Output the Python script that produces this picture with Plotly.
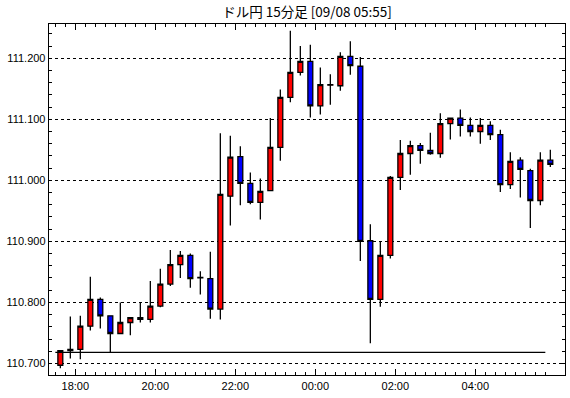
import pandas as pd
import plotly.graph_objects as go

title_text = "ドル円 15分足 [09/08 05:55]"
first_bar = "2017-09-07 17:30"
n_bars = 50

opens = [110.697, 110.721, 110.723, 110.761, 110.805, 110.778, 110.749, 110.767, 110.775, 110.772,
         110.794, 110.830, 110.862, 110.877, 110.840, 110.839, 110.789, 110.974, 111.039, 110.995,
         110.964, 110.983, 111.054, 111.136, 111.177, 111.195, 111.122, 111.156, 111.155, 111.203,
         111.187, 110.901, 110.805, 110.877, 111.005, 111.044, 111.057, 111.049, 111.044, 111.093,
         111.102, 111.090, 111.080, 111.090, 111.075, 110.993, 111.033, 111.016, 110.967, 111.033]
highs = [110.721, 110.777, 110.778, 110.842, 110.808, 110.778, 110.800, 110.775, 110.800, 110.835,
         110.855, 110.886, 110.884, 110.880, 110.851, 110.883, 111.077, 111.073, 111.056, 111.013,
         111.003, 111.102, 111.149, 111.245, 111.220, 111.222, 111.185, 111.174, 111.210, 111.228,
         111.202, 110.928, 110.900, 111.007, 111.066, 111.065, 111.061, 111.078, 111.110, 111.102,
         111.116, 111.103, 111.102, 111.097, 111.083, 111.046, 111.038, 111.019, 111.046, 111.050]
lows = [110.692, 110.708, 110.707, 110.754, 110.757, 110.718, 110.749, 110.746, 110.767, 110.767,
        110.792, 110.827, 110.840, 110.824, 110.813, 110.773, 110.772, 110.926, 110.959, 110.961,
        110.936, 110.983, 111.032, 111.128, 111.172, 111.103, 111.108, 111.124, 111.147, 111.173,
        110.868, 110.733, 110.793, 110.872, 110.984, 111.009, 111.027, 111.042, 111.037, 111.067,
        111.072, 111.072, 111.060, 111.066, 110.981, 110.986, 110.972, 110.922, 110.959, 111.022]
closes = [110.721, 110.723, 110.761, 110.805, 110.778, 110.749, 110.767, 110.775, 110.772, 110.794,
          110.830, 110.862, 110.877, 110.839, 110.841, 110.789, 110.977, 111.038, 110.995, 110.964,
          110.982, 111.054, 111.136, 111.177, 111.195, 111.122, 111.157, 111.157, 111.203, 111.188,
          110.900, 110.805, 110.877, 111.005, 111.044, 111.057, 111.049, 111.044, 111.093, 111.102,
          111.090, 111.080, 111.090, 111.075, 110.993, 111.031, 111.018, 110.967, 111.033, 111.026]
ref_level = 110.718

y_ticks = [110.7, 110.8, 110.9, 111.0, 111.1, 111.2]
x_major = ["2017-09-07 18:00", "2017-09-07 20:00", "2017-09-07 22:00",
           "2017-09-08 00:00", "2017-09-08 02:00", "2017-09-08 04:00"]

bar_start = pd.date_range(first_bar, periods=n_bars, freq="15min")
bar_mid = bar_start + pd.Timedelta(minutes=7.5)

fig = go.Figure()
fig.add_trace(go.Candlestick(
    x=bar_mid, open=opens, high=highs, low=lows, close=closes,
    increasing=dict(line=dict(color="black", width=1.3), fillcolor="#ff0000"),
    decreasing=dict(line=dict(color="black", width=1.3), fillcolor="#0000ff"),
    whiskerwidth=0, hoverinfo="skip", showlegend=False,
))
fig.add_trace(go.Scatter(
    x=[bar_start[0], bar_start[-1]], y=[ref_level, ref_level], mode="lines",
    line=dict(color="black", width=1.3), hoverinfo="skip", showlegend=False,
))

fig.update_layout(
    width=570, height=398,
    margin=dict(l=49, r=5, t=24, b=23),
    paper_bgcolor="white", plot_bgcolor="white",
    font=dict(family="Liberation Sans", size=11, color="black"),
    title=dict(text=title_text, x=0.5, xref="paper", xanchor="center",
               y=1 - 12 / 398, yanchor="middle", yref="container",
               font=dict(family="Noto Sans CJK JP", size=13.5, color="black")),
    showlegend=False,
)
fig.update_xaxes(
    type="date", automargin=False,
    range=["2017-09-07 17:20:30", "2017-09-08 06:14:30"],
    rangeslider=dict(visible=False),
    showgrid=False, zeroline=False,
    showline=True, linecolor="black", linewidth=1.3, mirror="allticks",
    ticks="inside", ticklen=6, tickcolor="black", tickwidth=1,
    tickmode="array", tickvals=x_major, tickformat="%H:%M",
    tickfont=dict(size=11),
    minor=dict(tickmode="array", tickvals=list(bar_start), ticks="inside", ticklen=3,
               tickcolor="black", tickwidth=1, showgrid=False),
)
fig.update_yaxes(
    automargin=False,
    range=[110.681, 111.2562],
    showgrid=True, gridcolor="black", griddash="dot", gridwidth=1,
    zeroline=False,
    showline=True, linecolor="black", linewidth=1.3, mirror="allticks",
    ticks="inside", ticklen=3, tickcolor="black", tickwidth=1,
    tickvals=y_ticks, tickformat=".3f",
    tickfont=dict(size=11),
    minor=dict(dtick=0.02, tick0=110.7, ticks="inside", ticklen=3,
               tickcolor="black", tickwidth=1, showgrid=False),
)

fig.write_html("out.html", config={"displayModeBar": False, "staticPlot": True},
               post_script="document.body.style.margin='0';document.body.style.padding='0';")
